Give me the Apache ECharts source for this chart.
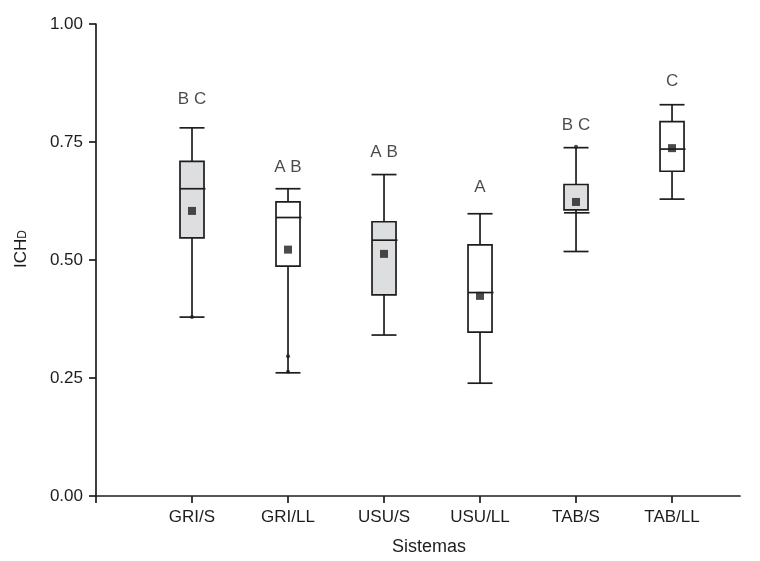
<!DOCTYPE html>
<html>
<head>
<meta charset="utf-8">
<script src="https://cdn.jsdelivr.net/npm/echarts@6/dist/echarts.min.js"></script>
<style>html,body{margin:0;padding:0;background:#fff}#c{width:760px;height:561px}</style>
</head>
<body>
<div id="c"></div>
<script>
const categories = ['GRI/S', 'GRI/LL', 'USU/S', 'USU/LL', 'TAB/S', 'TAB/LL'];
const lowerWhisker = [0.379, 0.261, 0.341, 0.239, 0.518, 0.629];
const q1 = [0.547, 0.487, 0.426, 0.347, 0.606, 0.688];
const median = [0.651, 0.590, 0.542, 0.431, 0.600, 0.735];
const q3 = [0.709, 0.623, 0.581, 0.532, 0.660, 0.793];
const upperWhisker = [0.780, 0.651, 0.681, 0.598, 0.738, 0.829];
const means = [0.604, 0.522, 0.513, 0.424, 0.623, 0.737];
const groups = ['B C', 'A B', 'A B', 'A', 'B C', 'C'];
const groupLabelY = [0.840, 0.697, 0.729, 0.655, 0.786, 0.879];
const shaded = [true, false, true, false, true, false];
const extremePoints = [[1, 0.379], [2, 0.296], [2, 0.263], [5, 0.740]];
const yTickLabels = ['0.00', '0.25', '0.50', '0.75', '1.00'];

const INK = '#1f1c1d';
const FONT = "'Liberation Sans', Arial, sans-serif";

const chart = echarts.init(document.getElementById('c'));

function renderBox(params, api) {
  const i = api.value(0);
  const x = api.coord([i, 0])[0];
  const yLo = api.coord([i, api.value(1)])[1];
  const yQ1 = api.coord([i, api.value(2)])[1];
  const yMed = api.coord([i, api.value(3)])[1];
  const yQ3 = api.coord([i, api.value(4)])[1];
  const yHi = api.coord([i, api.value(5)])[1];
  const hw = 12, cw = 12.5;
  const ls = { stroke: INK, lineWidth: 1.7 };
  const fill = shaded[params.dataIndex] ? '#dddee0' : '#ffffff';
  return {
    type: 'group',
    children: [
      { type: 'line', shape: { x1: x, y1: yHi, x2: x, y2: yQ3 }, style: ls },
      { type: 'line', shape: { x1: x, y1: yQ1, x2: x, y2: yLo }, style: ls },
      { type: 'line', shape: { x1: x - cw, y1: yHi, x2: x + cw, y2: yHi }, style: ls },
      { type: 'line', shape: { x1: x - cw, y1: yLo, x2: x + cw, y2: yLo }, style: ls },
      { type: 'rect', shape: { x: x - hw, y: yQ3, width: 2 * hw, height: yQ1 - yQ3 },
        style: { fill: fill, stroke: INK, lineWidth: 1.7 } },
      { type: 'line', shape: { x1: x - hw, y1: yMed, x2: x + hw + 1.5, y2: yMed }, style: ls }
    ]
  };
}

const option = {
  backgroundColor: '#ffffff',
  animation: false,
  textStyle: { fontFamily: FONT },
  grid: { left: 96, right: 20, top: 24, bottom: 61, containLabel: false },
  xAxis: {
    type: 'value',
    min: 0,
    max: 6.708,
    interval: 1,
    name: 'Sistemas',
    nameLocation: 'middle',
    nameGap: 42,
    nameTextStyle: { fontSize: 18, color: INK, fontFamily: FONT, padding: [0, 0, 0, 22] },
    axisLine: { lineStyle: { color: INK, width: 1.7 } },
    axisTick: { show: true, length: 7, inside: false, lineStyle: { color: INK, width: 1.7 },
      customValues: [0, 1, 2, 3, 4, 5, 6] },
    axisLabel: { fontSize: 17, color: INK, fontFamily: FONT, margin: 13,
      customValues: [1, 2, 3, 4, 5, 6],
      formatter: v => categories[Math.round(v) - 1] || '' },
    splitLine: { show: false }
  },
  yAxis: {
    type: 'value',
    min: 0,
    max: 1,
    interval: 0.25,
    name: '{a|ICH}{b|D}',
    nameLocation: 'middle',
    nameRotate: 90,
    nameGap: 66,
    nameTextStyle: {
      color: INK, fontFamily: FONT, padding: [0, 0, 0, 22],
      rich: {
        a: { fontSize: 17, color: INK, fontFamily: FONT, verticalAlign: 'bottom' },
        b: { fontSize: 12, color: INK, fontFamily: FONT, verticalAlign: 'bottom', padding: [0, 0, 1, 0] }
      }
    },
    axisLine: { show: true, lineStyle: { color: INK, width: 1.7 } },
    axisTick: { show: true, length: 7, lineStyle: { color: INK, width: 1.7 } },
    axisLabel: { fontSize: 17, color: INK, fontFamily: FONT, margin: 13, padding: [0, 0, 6, 0],
      formatter: v => yTickLabels[Math.round(v / 0.25)] },
    splitLine: { show: false }
  },
  series: [
    {
      type: 'custom',
      renderItem: renderBox,
      data: categories.map((c, k) => [k + 1, lowerWhisker[k], q1[k], median[k], q3[k], upperWhisker[k]]),
      encode: { x: 0, y: [1, 2, 3, 4, 5] },
      z: 2
    },
    {
      type: 'scatter',
      data: means.map((m, k) => [k + 1, m]),
      symbol: 'rect',
      symbolSize: 8,
      itemStyle: { color: INK },
      z: 4
    },
    {
      type: 'scatter',
      data: extremePoints,
      symbol: 'circle',
      symbolSize: 4,
      itemStyle: { color: INK },
      z: 4
    },
    {
      type: 'scatter',
      data: groupLabelY.map((y, k) => [k + 1, y]),
      symbolSize: 0,
      label: {
        show: true,
        position: 'inside',
        formatter: p => groups[p.dataIndex],
        fontSize: 17,
        color: INK,
        fontFamily: FONT
      },
      z: 5
    }
  ]
};
chart.setOption(option);
</script>
</body>
</html>
